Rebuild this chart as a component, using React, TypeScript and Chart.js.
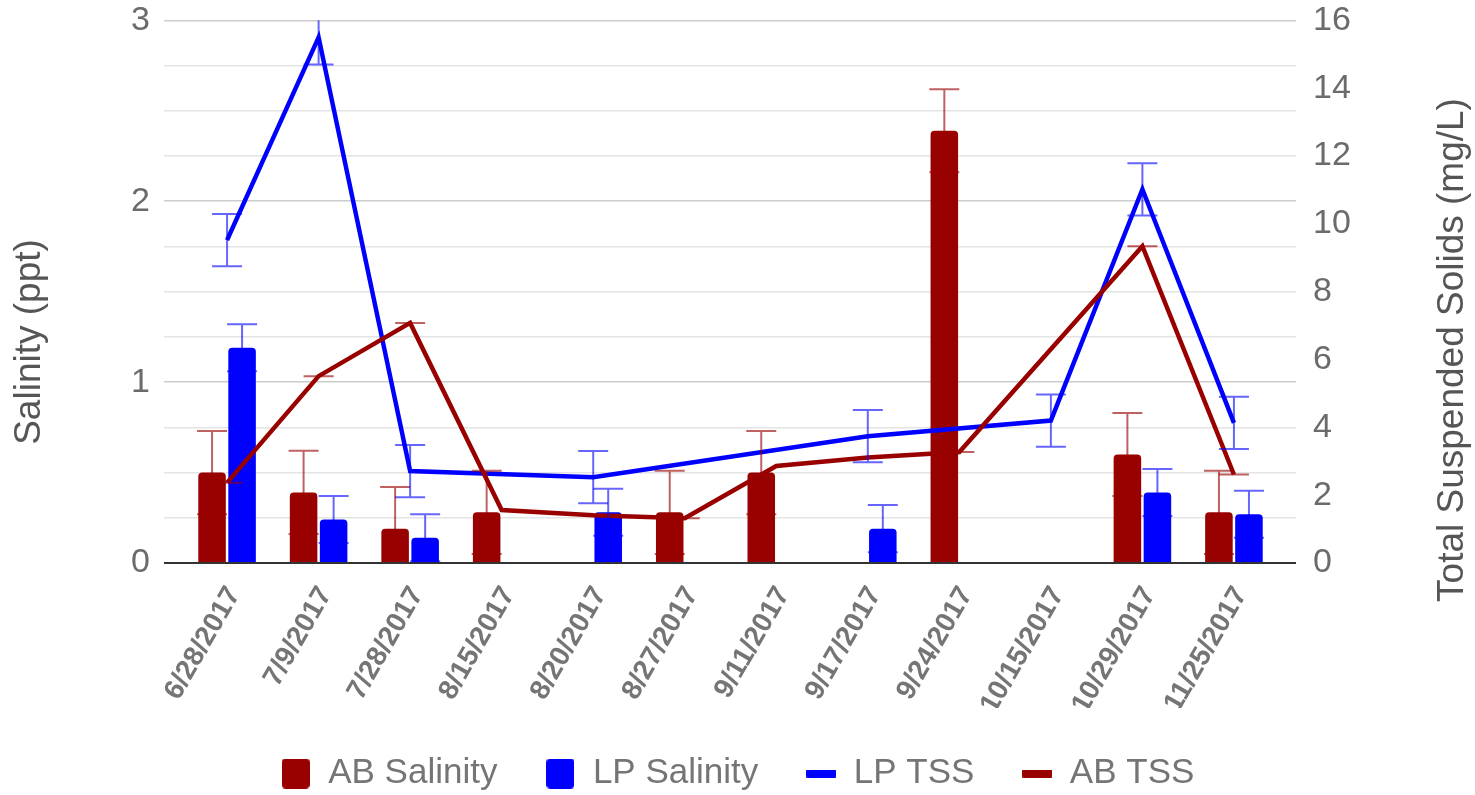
import React, { useEffect, useRef } from 'react';
import { Chart, registerables } from 'chart.js';

Chart.register(...registerables);

// ---------------- data ----------------
const CATEGORIES = [
  '6/28/2017', '7/9/2017', '7/28/2017', '8/15/2017', '8/20/2017', '8/27/2017',
  '9/11/2017', '9/17/2017', '9/24/2017', '10/15/2017', '10/29/2017', '11/25/2017',
];
const AB_SALINITY = [0.5, 0.39, 0.19, 0.28, null, 0.28, 0.5, null, 2.39, null, 0.6, 0.28];
const AB_SALINITY_ERR = [0.23, 0.23, 0.23, 0.23, null, 0.23, 0.23, null, 0.23, null, 0.23, 0.23];
const LP_SALINITY = [1.19, 0.24, 0.14, null, 0.28, null, null, 0.19, null, null, 0.39, 0.27];
const LP_SALINITY_ERR = [0.13, 0.13, 0.13, null, 0.13, null, null, 0.13, null, null, 0.13, 0.13];
const LP_TSS = [9.52, 15.5, 2.71, null, 2.53, null, null, 3.74, null, 4.2, 11.02, 4.13];
const LP_TSS_ERR = [0.77, 0.8, 0.77, null, 0.77, null, null, 0.77, null, 0.77, 0.77, 0.77];
const AB_TSS = [2.37, 5.51, 7.08, 1.56, 1.41, 1.32, 2.86, 3.11, 3.27, null, 9.34, 2.61];
const AB_TSS_ERR = [0, 0, 0, null, null, 0, null, null, 0, null, 0, 0];

const SERIES_NAMES = ['AB Salinity', 'LP Salinity', 'LP TSS', 'AB TSS'];
const SALINITY_TICKS = [0, 1, 2, 3];
const TSS_TICKS = [0, 2, 4, 6, 8, 10, 12, 14, 16];
const SALINITY_TITLE = 'Salinity (ppt)';
const TSS_TITLE = 'Total Suspended Solids (mg/L)';

// ---------------- styles ----------------
const FONT = 'Arial, "Liberation Sans", sans-serif';
const AB_COLOR = '#990000';
const LP_COLOR = '#0000ff';
const AB_ERR_COLOR = 'rgba(153,0,0,0.62)';
const LP_ERR_COLOR = 'rgba(0,0,255,0.6)';
const CANVAS_W = 1475;
const CANVAS_H = 801;
const PLOT_BOTTOM = 563;
const TRANSPARENT = 'rgba(0,0,0,0)';

const toXY = (arr: (number | null)[]) => arr.map((v, i) => ({ x: i, y: v }));

function makeIcon(w: number, h: number, color: string, r: number) {
  const c = document.createElement('canvas');
  c.width = w;
  c.height = h;
  const g = c.getContext('2d')!;
  g.fillStyle = color;
  g.beginPath();
  g.moveTo(r, 0);
  g.lineTo(w - r, 0);
  g.arcTo(w, 0, w, r, r);
  g.lineTo(w, h - r);
  g.arcTo(w, h, w - r, h, r);
  g.lineTo(r, h);
  g.arcTo(0, h, 0, h - r, r);
  g.lineTo(0, r);
  g.arcTo(0, 0, r, 0, r);
  g.closePath();
  g.fill();
  return c;
}

const errorBarPlugin = {
  id: 'errorBars',
  afterDatasetsDraw(chart: any) {
    const ctx = chart.ctx;
    const a = chart.chartArea;
    ctx.save();
    ctx.beginPath();
    ctx.rect(a.left, a.top, a.right - a.left, a.bottom - a.top);
    ctx.clip();
    chart.data.datasets.forEach((ds: any, di: number) => {
      const errs = ds.errors as (number | null)[] | undefined;
      if (!errs) return;
      const meta = chart.getDatasetMeta(di);
      const ys = chart.scales[ds.yAxisID];
      ctx.strokeStyle = ds.errorColor;
      ctx.lineWidth = 2;
      meta.data.forEach((el: any, i: number) => {
        const v = ds.data[i].y;
        const e = errs[i];
        if (v == null || e == null) return;
        const x = el.x;
        const yt = ys.getPixelForValue(v + e);
        const yb = ys.getPixelForValue(v - e);
        ctx.beginPath();
        ctx.moveTo(x, yt);
        ctx.lineTo(x, yb);
        ctx.moveTo(x - 15, yt);
        ctx.lineTo(x + 15, yt);
        ctx.moveTo(x - 15, yb);
        ctx.lineTo(x + 15, yb);
        ctx.stroke();
      });
    });
    ctx.restore();
  },
};

const axisTitlePlugin = {
  id: 'axisTitles',
  afterDraw(chart: any) {
    const ctx = chart.ctx;
    ctx.save();
    ctx.font = `37px ${FONT}`;
    ctx.fillStyle = '#555555';
    ctx.textAlign = 'center';
    ctx.textBaseline = 'middle';
    ctx.translate(30, 342);
    ctx.rotate(-Math.PI / 2);
    ctx.fillText(SALINITY_TITLE, 0, 0);
    ctx.restore();
    ctx.save();
    ctx.font = `37px ${FONT}`;
    ctx.fillStyle = '#555555';
    ctx.textAlign = 'center';
    ctx.textBaseline = 'middle';
    ctx.translate(1453, 350);
    ctx.rotate(-Math.PI / 2);
    ctx.fillText(TSS_TITLE, 0, 0);
    ctx.restore();
  },
};

export default function App() {
  const ref = useRef<HTMLCanvasElement>(null);

  useEffect(() => {
    const canvas = ref.current;
    if (!canvas) return;
    Chart.defaults.font.family = FONT;

    const abIcon = makeIcon(28, 30, AB_COLOR, 4);
    const lpIcon = makeIcon(28, 30, LP_COLOR, 4);
    const lpLine = makeIcon(30, 8, LP_COLOR, 1);
    const abLine = makeIcon(30, 8, AB_COLOR, 1);

    const chart = new Chart(canvas, {
      type: 'bar',
      data: {
        datasets: [
          {
            type: 'bar',
            label: SERIES_NAMES[0],
            data: toXY(AB_SALINITY),
            yAxisID: 'ySal',
            backgroundColor: AB_COLOR,
            borderRadius: { topLeft: 4, topRight: 4, bottomLeft: 0, bottomRight: 0 },
            borderSkipped: false,
            barPercentage: 0.917,
            categoryPercentage: 0.656,
            order: 2,
            pointStyle: abIcon,
            errors: AB_SALINITY_ERR,
            errorColor: AB_ERR_COLOR,
          } as any,
          {
            type: 'bar',
            label: SERIES_NAMES[1],
            data: toXY(LP_SALINITY),
            yAxisID: 'ySal',
            backgroundColor: LP_COLOR,
            borderRadius: { topLeft: 4, topRight: 4, bottomLeft: 0, bottomRight: 0 },
            borderSkipped: false,
            barPercentage: 0.917,
            categoryPercentage: 0.656,
            order: 2,
            pointStyle: lpIcon,
            errors: LP_SALINITY_ERR,
            errorColor: LP_ERR_COLOR,
          } as any,
          {
            type: 'line',
            label: SERIES_NAMES[2],
            data: toXY(LP_TSS),
            yAxisID: 'yTss',
            borderColor: LP_COLOR,
            backgroundColor: LP_COLOR,
            borderWidth: 4.5,
            pointRadius: 0,
            pointHoverRadius: 0,
            spanGaps: true,
            tension: 0,
            fill: false,
            order: 1,
            pointStyle: lpLine,
            errors: LP_TSS_ERR,
            errorColor: LP_ERR_COLOR,
          } as any,
          {
            type: 'line',
            label: SERIES_NAMES[3],
            data: toXY(AB_TSS),
            yAxisID: 'yTss',
            borderColor: AB_COLOR,
            backgroundColor: AB_COLOR,
            borderWidth: 4.5,
            pointRadius: 0,
            pointHoverRadius: 0,
            spanGaps: true,
            tension: 0,
            fill: false,
            order: 0,
            pointStyle: abLine,
            errors: AB_TSS_ERR,
            errorColor: AB_ERR_COLOR,
          } as any,
        ],
      },
      options: {
        responsive: false,
        maintainAspectRatio: false,
        animation: false,
        devicePixelRatio: 1,
        layout: { padding: { top: 0, left: 0, right: 0, bottom: 0 } },
        plugins: {
          tooltip: { enabled: false },
          title: { display: false },
          legend: {
            display: true,
            position: 'bottom',
            labels: {
              usePointStyle: true,
              pointStyleWidth: 30,
              boxWidth: 30,
              boxHeight: 30,
              padding: 48,
              color: '#757575',
              font: { size: 35, family: FONT },
              sort: (a: any, b: any) => a.datasetIndex - b.datasetIndex,
            },
          },
        },
        scales: {
          x: {
            type: 'linear',
            position: 'bottom',
            offset: false,
            min: -0.689,
            max: 11.678,
            grid: { display: false, drawTicks: false, offset: false },
            border: { display: false },
            afterBuildTicks: (s: any) => {
              s.ticks = CATEGORIES.map((_, i) => ({ value: i }));
            },
            afterFit: (s: any) => {
              const lh = s.chart.legend && s.chart.legend.height ? s.chart.legend.height : 93;
              s.height = CANVAS_H - lh - PLOT_BOTTOM;
            },
            ticks: {
              autoSkip: false,
              maxRotation: 60,
              minRotation: 60,
              padding: 18,
              labelOffset: 7,
              color: '#757575',
              font: { size: 28, weight: 'bold', family: FONT },
              callback: (v: any) => CATEGORIES[Math.round(Number(v))] ?? '',
            },
          } as any,
          ySal: {
            type: 'linear',
            position: 'left',
            min: 0,
            max: 3,
            afterBuildTicks: (s: any) => {
              const t: any[] = [];
              for (let k = 0; k <= 12; k++) t.push({ value: k * 0.25 });
              s.ticks = t;
            },
            afterFit: (s: any) => {
              s.width = 164;
            },
            grid: {
              drawTicks: true,
              tickLength: 14,
              tickColor: TRANSPARENT,
              tickWidth: 0,
              color: (c: any) =>
                c.tick && c.tick.value === 0
                  ? '#333333'
                  : c.tick && Number.isInteger(c.tick.value)
                  ? '#cccccc'
                  : '#e4e4e4',
              lineWidth: (c: any) => (c.tick && c.tick.value === 0 ? 2 : 1.6),
            },
            border: { display: false },
            ticks: {
              padding: 0,
              color: '#6b6b6b',
              font: { size: 34, family: FONT },
              callback: (v: any) => (SALINITY_TICKS.includes(Number(v)) ? String(v) : ''),
            },
          } as any,
          yTss: {
            type: 'linear',
            position: 'right',
            min: 0,
            max: 16,
            afterBuildTicks: (s: any) => {
              s.ticks = TSS_TICKS.map((v) => ({ value: v }));
            },
            afterFit: (s: any) => {
              s.width = CANVAS_W - 1296;
            },
            grid: {
              display: true,
              drawOnChartArea: false,
              drawTicks: true,
              tickLength: 17,
              tickColor: TRANSPARENT,
              tickWidth: 0,
              color: TRANSPARENT,
            },
            border: { display: false },
            ticks: {
              padding: 0,
              color: '#6b6b6b',
              font: { size: 34, family: FONT },
            },
          } as any,
        },
      } as any,
      plugins: [errorBarPlugin, axisTitlePlugin],
    });

    return () => chart.destroy();
  }, []);

  return (
    <div
      style={{
        position: 'fixed',
        left: 0,
        top: 0,
        width: CANVAS_W,
        height: 795,
        overflow: 'hidden',
        background: '#ffffff',
      }}
    >
      <canvas ref={ref} width={CANVAS_W} height={CANVAS_H} style={{ display: 'block' }} />
    </div>
  );
}
